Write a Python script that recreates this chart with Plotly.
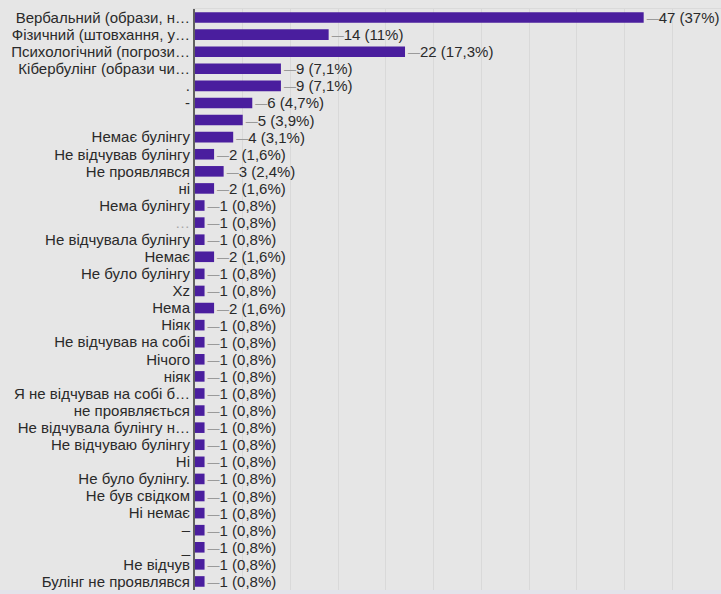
import plotly.graph_objects as go

labels = [
    "Вербальний (образи, н…",
    "Фізичний (штовхання, у…",
    "Психологічний (погрози…",
    "Кібербулінг (образи чи…",
    ".",
    "-",
    "",
    "Немає булінгу",
    "Не відчував булінгу",
    "Не проявлявся",
    "ні",
    "Нема булінгу",
    "<span style='color:#a8a8a8'>…</span>",
    "Не відчувала булінгу",
    "Немає",
    "Не було булінгу",
    "Xz",
    "Нема",
    "Ніяк",
    "Не відчував на собі",
    "Нічого",
    "ніяк",
    "Я не відчував на собі б…",
    "не проявляється",
    "Не відчувала булінгу н…",
    "Не відчуваю булінгу",
    "Ні",
    "Не було булінгу.",
    "Не був свідком",
    "Ні немає",
    "–",
    "_",
    "Не відчув",
    "Булінг не проявлявся",
]

counts = [47, 14, 22, 9, 9, 6, 5, 4, 2, 3, 2, 1, 1, 1, 2, 1, 1, 2,
          1, 1, 1, 1, 1, 1, 1, 1, 1, 1, 1, 1, 1, 1, 1, 1]

percents = ["37%", "11%", "17,3%", "7,1%", "7,1%", "4,7%", "3,9%", "3,1%",
            "1,6%", "2,4%", "1,6%", "0,8%", "0,8%", "0,8%", "1,6%", "0,8%",
            "0,8%", "1,6%", "0,8%", "0,8%", "0,8%", "0,8%", "0,8%", "0,8%",
            "0,8%", "0,8%", "0,8%", "0,8%", "0,8%", "0,8%", "0,8%", "0,8%",
            "0,8%", "0,8%"]

positions = list(range(len(labels)))
texts = [f"<span style='color:#9a9a9a;font-size:12px'>—</span>{c} ({p})"
         for c, p in zip(counts, percents)]

FONT = "Liberation Sans, Arial"

fig = go.Figure(go.Bar(
    x=counts,
    y=positions,
    orientation="h",
    width=0.62,
    marker=dict(color="#4a1e9e", line=dict(width=0)),
    text=texts,
    textposition="outside",
    constraintext="none",
    cliponaxis=False,
    textfont=dict(family=FONT, size=15, color="#2a2a2a"),
    hoverinfo="skip",
))

fig.update_layout(
    width=721,
    height=594,
    margin=dict(l=195, r=0, t=9, b=4),
    paper_bgcolor="#e6e6e6",
    plot_bgcolor="#e6e6e6",
    showlegend=False,
    font=dict(family=FONT, size=15, color="#2a2a2a"),
    xaxis=dict(
        range=[0, 55.1],
        dtick=5,
        showgrid=True,
        gridcolor="#d9d9d9",
        gridwidth=1,
        zeroline=False,
        showticklabels=False,
        ticks="",
        showline=True,
        linecolor="#dadada",
        side="top",
        mirror=False,
        fixedrange=True,
    ),
    yaxis=dict(
        tickvals=positions,
        ticktext=labels,
        range=[len(labels) - 0.5, -0.5],
        showgrid=False,
        zeroline=False,
        ticks="",
        showline=True,
        linecolor="#606060",
        linewidth=2,
        tickfont=dict(family=FONT, size=15, color="#2a2a2a"),
        fixedrange=True,
    ),
    shapes=[dict(
        type="rect", xref="paper", yref="paper",
        x0=-0.5, x1=1.1, y0=-0.05, y1=0,
        fillcolor="#e3e3ea", line=dict(width=0), layer="below",
    )],
)

fig.write_html(
    "out.html",
    config={"displayModeBar": False},
    post_script="document.body.style.margin='0';document.body.style.overflow='hidden';",
)
